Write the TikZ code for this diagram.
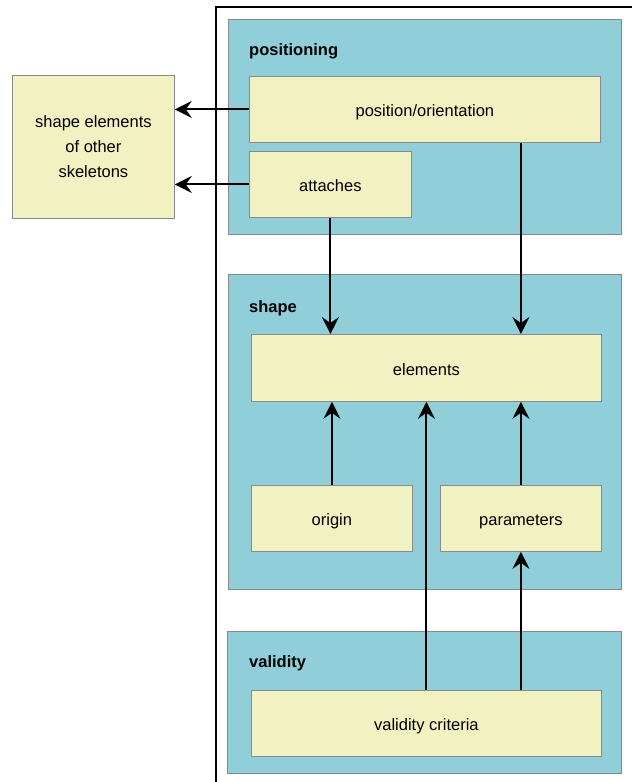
\documentclass[tikz,border=0pt]{standalone}
\usepackage{fontspec}
\setmainfont{Liberation Sans}
\usetikzlibrary{arrows.meta}
\definecolor{panelc}{HTML}{90CED9}
\definecolor{boxc}{HTML}{F1F1C1}
\definecolor{edgec}{HTML}{8A8A8A}

\begin{document}
\begin{tikzpicture}[x=1pt,y=-1pt,
    panel/.style={draw=edgec,fill=panelc,line width=0.8pt,anchor=north west,inner sep=0pt},
    box/.style={draw=edgec,fill=boxc,line width=0.8pt,anchor=north west,align=center,
      font=\fontsize{16.5}{25}\selectfont},
    onerow/.style={box,text height=15pt,text depth=0pt},
    tag/.style={anchor=base west,inner sep=0pt,font=\fontsize{16.5}{19}\selectfont\bfseries},
    flow/.style={-{Stealth[length=17pt,width=17pt,inset=6pt]},line width=2pt}]
    \useasboundingbox (0,0) rectangle (632,782);
    \clip (0,0) rectangle (632,782);
    % outer frame
    \draw[line width=2pt] (216,7) rectangle (650,800);
    % panels
    \node[panel,minimum width=393,minimum height=215] (pos) at (228,19) {};
    \node[panel,minimum width=393,minimum height=315] (shp) at (228,274) {};
    \node[panel,minimum width=394,minimum height=142] (val) at (227,631) {};
    \node[tag] at (249,55) {positioning};
    \node[tag] at (249,312) {shape};
    \node[tag] at (249,667) {validity};
    % boxes
    \node[box,minimum width=162,minimum height=143] (others) at (12,75)
      {shape elements\\of other\\skeletons};
    \node[onerow,minimum width=351,minimum height=66] (posor) at (249,76) {position/orientation};
    \node[onerow,minimum width=162,minimum height=66] (att) at (249,151) {attaches};
    \node[onerow,minimum width=350,minimum height=67] (elem) at (251,334) {elements};
    \node[onerow,minimum width=161,minimum height=66] (orig) at (251,485) {origin};
    \node[onerow,minimum width=161,minimum height=66] (par) at (440,485) {parameters};
    \node[onerow,minimum width=350,minimum height=66] (crit) at (251,690) {validity criteria};
    % connectors
    \draw[flow] (posor.west) -- (posor.west -| others.east);
    \draw[flow] (att.west) -- (att.west -| others.east);
    \draw[flow] (att.south) -- (att.south |- elem.north);
    \draw[flow] (posor.south -| par) -- (elem.north -| par);
    \draw[flow] (orig.north) -- (orig.north |- elem.south);
    \draw[flow] (crit.north) -- (elem.south);
    \draw[flow] (crit.north -| par) -- (par.south);
    \draw[flow] (par.north) -- (par.north |- elem.south);
\end{tikzpicture}
\end{document}
